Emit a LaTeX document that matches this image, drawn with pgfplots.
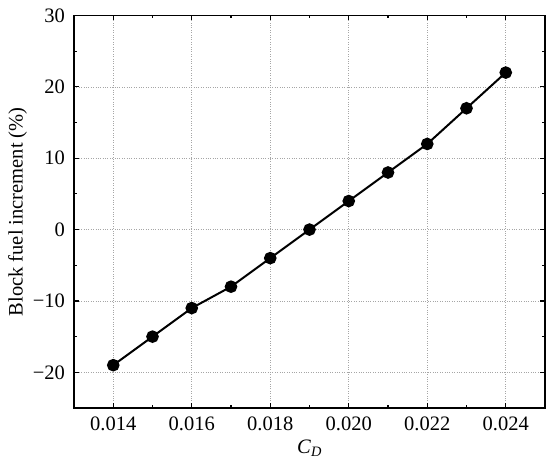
\documentclass[border=0pt]{standalone}
\usepackage{fontspec}
\setmainfont{Liberation Serif}
\usepackage{pgfplots}
\pgfplotsset{compat=1.18}
\begin{document}
\fontsize{20.5bp}{23bp}\selectfont
\begin{tikzpicture}[x=1bp,y=1bp]
\useasboundingbox (-74,-58) rectangle (476,408);
\begin{axis}[
  at={(0,0)}, anchor=south west,
  scale only axis, width=471bp, height=392.5bp,
  xmin=0.013, xmax=0.025, ymin=-25, ymax=30,
  xtick={0.014,0.016,0.018,0.020,0.022,0.024},
  xticklabels={0.014,0.016,0.018,0.020,0.022,0.024},
  ytick={-20,-10,0,10,20,30},
  yticklabels={−20,−10,0,10,20,30},
  minor x tick num=1, minor y tick num=1,
  tick align=inside,
  major tick length=5bp, minor tick length=3bp,
  every tick/.style={black, line width=1.2pt},
  axis line style={line width=1.5pt},
  grid=major,
  major grid style={gray!70, dotted, line width=0.6pt},
  xlabel={\textit{C}\textsubscript{\textit{D}}},
  ylabel={Block fuel increment (\%)},
  xlabel style={yshift=5bp},
  ylabel style={yshift=-8bp},
  xticklabel style={yshift=-2bp},
  yticklabel style={xshift=-2bp},
  scaled x ticks=false,
]
\addplot[black, line width=2pt, mark=*, mark size=5.3bp] coordinates {
(0.014,-19) (0.015,-15) (0.016,-11) (0.017,-8) (0.018,-4) (0.019,0)
(0.020,4) (0.021,8) (0.022,12) (0.023,17) (0.024,22)};
\end{axis}
\end{tikzpicture}
\end{document}
